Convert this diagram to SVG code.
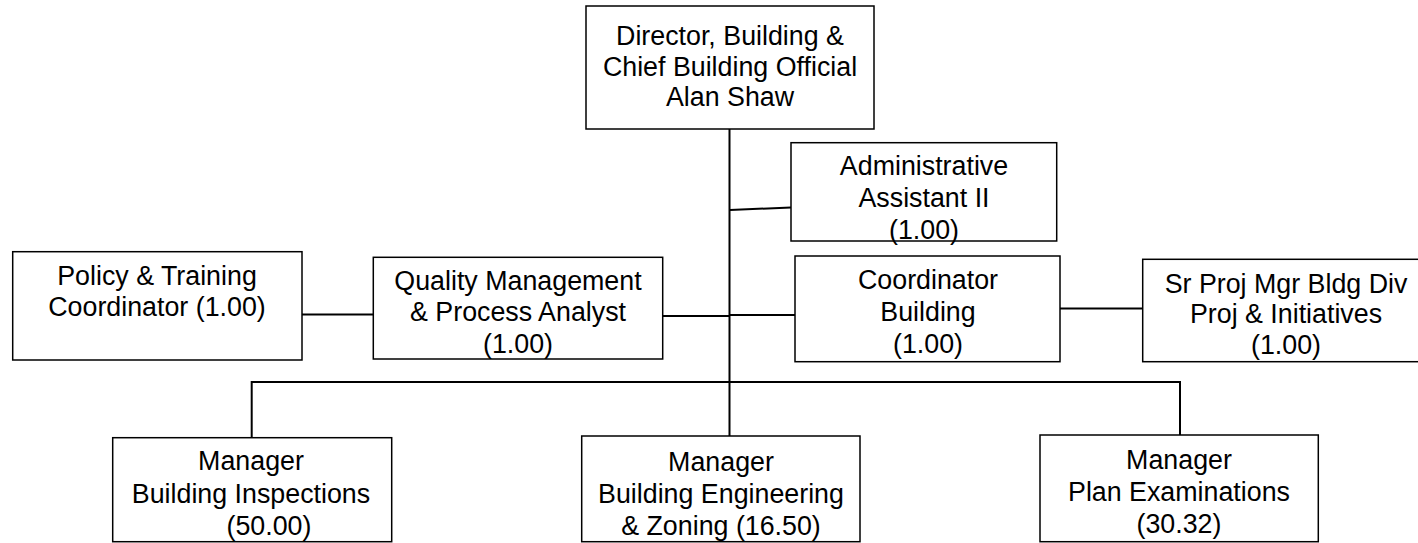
<svg xmlns="http://www.w3.org/2000/svg" width="1418" height="543" viewBox="0 0 1418 543">
<style>
.box{fill:#fff;stroke:#000;stroke-width:1.5}
.t{font-family:"Liberation Sans",Arial,sans-serif;font-size:26.8px;fill:#000;text-anchor:middle}
.c{stroke:#000;stroke-width:2;fill:none}
</style>
<rect width="1418" height="543" fill="#fff"/>
<g id="connectors">
<line class="c" x1="729.5" y1="129" x2="729.5" y2="436" stroke-width="2.5"/>
<line class="c" x1="730" y1="210" x2="791" y2="207.5" stroke-width="1.5"/>
<line class="c" x1="730" y1="315" x2="795" y2="315" stroke-width="1.5"/>
<line class="c" x1="662.7" y1="316" x2="729" y2="316"/>
<line class="c" x1="302" y1="314.5" x2="373.3" y2="314.5"/>
<line class="c" x1="1060" y1="308.5" x2="1142.7" y2="308.5" stroke-width="1.5"/>
<line class="c" x1="251.7" y1="382" x2="1181" y2="382"/>
<line class="c" x1="251.7" y1="381" x2="251.7" y2="437.7"/>
<line class="c" x1="1180" y1="381" x2="1180" y2="435"/>
</g>
<g id="director">
<rect class="box" x="586" y="6" width="288" height="123"/>
<text class="t" x="730" y="45">Director, Building &amp;</text>
<text class="t" x="730" y="75.5">Chief Building Official</text>
<text class="t" x="730" y="106">Alan Shaw</text>
</g>
<g id="admin">
<rect class="box" x="791" y="142.7" width="265.7" height="98.3"/>
<text class="t" x="924" y="175">Administrative</text>
<text class="t" x="924" y="207">Assistant II</text>
<text class="t" x="924" y="238.5">(1.00)</text>
</g>
<g id="policy">
<rect class="box" x="12.7" y="251.7" width="289.3" height="108.3"/>
<text class="t" x="157" y="285">Policy &amp; Training</text>
<text class="t" x="157" y="316">Coordinator (1.00)</text>
</g>
<g id="quality">
<rect class="box" x="373.3" y="257.3" width="289.4" height="101.7"/>
<text class="t" x="518" y="290">Quality Management</text>
<text class="t" x="518" y="321">&amp; Process Analyst</text>
<text class="t" x="518" y="352.5">(1.00)</text>
</g>
<g id="coordinator">
<rect class="box" x="795" y="256" width="265" height="105.7"/>
<text class="t" x="928" y="289">Coordinator</text>
<text class="t" x="928" y="321">Building</text>
<text class="t" x="928" y="352.5">(1.00)</text>
</g>
<g id="srproj">
<rect class="box" x="1142.7" y="259.3" width="290" height="102.4"/>
<text class="t" x="1286" y="292.5">Sr Proj Mgr Bldg Div</text>
<text class="t" x="1286" y="323">Proj &amp; Initiatives</text>
<text class="t" x="1286" y="354">(1.00)</text>
</g>
<g id="mgr-inspections">
<rect class="box" x="112.7" y="437.7" width="279" height="104"/>
<text class="t" x="251" y="470">Manager</text>
<text class="t" x="251" y="502.5">Building Inspections</text>
<text class="t" x="269" y="535">(50.00)</text>
</g>
<g id="mgr-engineering">
<rect class="box" x="581.7" y="436" width="278.3" height="105.7"/>
<text class="t" x="721" y="470.5">Manager</text>
<text class="t" x="721" y="503">Building Engineering</text>
<text class="t" x="721" y="535">&amp; Zoning (16.50)</text>
</g>
<g id="mgr-plan">
<rect class="box" x="1040" y="435" width="278.3" height="106.7"/>
<text class="t" x="1179" y="469">Manager</text>
<text class="t" x="1179" y="501">Plan Examinations</text>
<text class="t" x="1179" y="533">(30.32)</text>
</g>
</svg>
